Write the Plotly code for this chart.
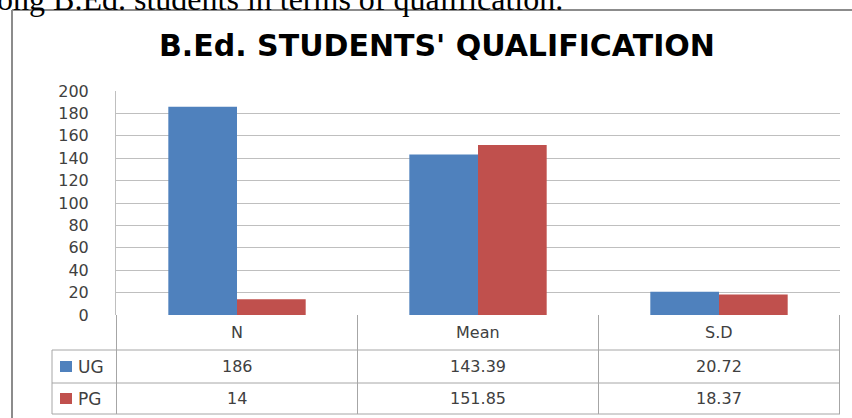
import plotly.graph_objects as go

# ---- data ----
categories = ["N", "Mean", "S.D"]
ug_values = [186, 143.39, 20.72]
pg_values = [14, 151.85, 18.37]
series_names = ["UG", "PG"]
title_text = "B.Ed. STUDENTS' QUALIFICATION"
caption_text = "among B.Ed. students in terms of qualification."

# ---- layout constants ----
W, H = 852, 418
ML, MR, MT, MB = 116, 12, 91, 103
PW, PH = W - ML - MR, H - MT - MB
BLUE, RED = "#4F81BD", "#C0504D"
GRID = "#BFBFBF"
TABLE = "#A6A6A6"
TXT = "#404040"
FONT = "DejaVu Sans"


def px(x):
    return (x - ML) / PW


def py(y):
    return (H - MB - y) / PH


fig = go.Figure()
fig.add_trace(go.Bar(x=categories, y=ug_values, name=series_names[0],
                     marker=dict(color=BLUE, line=dict(width=0)), showlegend=False))
fig.add_trace(go.Bar(x=categories, y=pg_values, name=series_names[1],
                     marker=dict(color=RED, line=dict(width=0)), showlegend=False))

shapes = []
annotations = []

# row geometry (pixels below x-axis)
hdr_bottom, ug_bottom, pg_bottom = 35, 68, 99
row_centers = [17.5, 51.5, 83.5]

# vertical table lines at category boundaries
for b in [-0.5, 0.5, 1.5, 2.5]:
    shapes.append(dict(type="line", xref="x", yref="paper", ysizemode="pixel",
                       yanchor=0, x0=b, x1=b, y0=0, y1=-pg_bottom,
                       line=dict(color=TABLE, width=1)))
# horizontal table lines
for yb in [hdr_bottom, ug_bottom, pg_bottom]:
    shapes.append(dict(type="line", xref="paper", yref="paper", ysizemode="pixel",
                       yanchor=0, x0=px(52), x1=1, y0=-yb, y1=-yb,
                       line=dict(color=TABLE, width=1)))
# legend column left line
shapes.append(dict(type="line", xref="paper", yref="paper", ysizemode="pixel",
                   yanchor=0, x0=px(52), x1=px(52), y0=-hdr_bottom, y1=-pg_bottom,
                   line=dict(color=TABLE, width=1)))

# chart frame
shapes.append(dict(type="line", xref="paper", yref="paper",
                   x0=px(12), x1=px(12), y0=py(10), y1=py(430),
                   line=dict(color="#8C8C8C", width=2)))
shapes.append(dict(type="line", xref="paper", yref="paper",
                   x0=px(12), x1=px(870), y0=py(10), y1=py(10),
                   line=dict(color="#8C8C8C", width=2)))

# header labels
for c in categories:
    annotations.append(dict(x=c, xref="x", y=0, yref="paper", yshift=-row_centers[0],
                            text=c, showarrow=False, yanchor="middle",
                            font=dict(family=FONT, size=16, color=TXT)))
# values
for vals, rc in [(ug_values, row_centers[1]), (pg_values, row_centers[2])]:
    for c, v in zip(categories, vals):
        annotations.append(dict(x=c, xref="x", y=0, yref="paper", yshift=-rc,
                                text=f"{v:g}", showarrow=False, yanchor="middle",
                                font=dict(family=FONT, size=16, color=TXT)))
# legend keys
for name, col, rc in [(series_names[0], BLUE, row_centers[1]), (series_names[1], RED, row_centers[2])]:
    shapes.append(dict(type="rect", xref="paper", yref="paper", ysizemode="pixel",
                       yanchor=0, x0=px(60), x1=px(72), y0=-rc - 5.5, y1=-rc + 5.5,
                       fillcolor=col, line=dict(width=0)))
    annotations.append(dict(x=px(76), xref="paper", y=0, yref="paper", yshift=-rc,
                            text=name, showarrow=False, xanchor="left", yanchor="middle",
                            font=dict(family=FONT, size=17, color=TXT)))

# title
annotations.append(dict(x=px(437), xref="paper", y=py(46), yref="paper",
                        text=f"<b>{title_text}</b>", showarrow=False,
                        xanchor="center", yanchor="middle",
                        font=dict(family=FONT, size=30, color="#000000")))
# cut caption at top
annotations.append(dict(x=px(-44), xref="paper", y=py(19), yref="paper",
                        text=caption_text, showarrow=False,
                        xanchor="left", yanchor="bottom",
                        font=dict(family="Liberation Serif", size=32, color="#000000")))

fig.update_layout(
    width=W, height=H,
    margin=dict(l=ML, r=MR, t=MT, b=MB, pad=0),
    paper_bgcolor="white", plot_bgcolor="white",
    barmode="group", bargap=0.43, bargroupgap=0,
    xaxis=dict(showticklabels=False, showgrid=False, zeroline=False,
               showline=False, ticks=""),
    yaxis=dict(range=[0, 200], dtick=20, showgrid=True, gridcolor=GRID, gridwidth=1,
               zeroline=False, showline=True, linecolor=GRID, ticks="",
               ticklabelstandoff=23,
               tickfont=dict(family=FONT, size=16, color=TXT)),
    shapes=shapes, annotations=annotations,
)

fig.write_html("out.html", config={"displayModeBar": False},
               post_script="document.body.style.margin='0';")
